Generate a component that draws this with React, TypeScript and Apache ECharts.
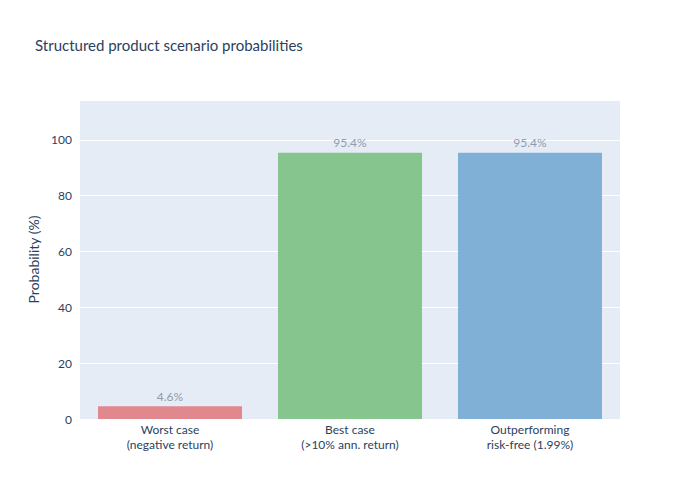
import React, { useEffect, useRef } from "react";
import * as echarts from "echarts";

const categories = ["Worst case\n(negative return)", "Best case\n(>10% ann. return)", "Outperforming\nrisk-free (1.99%)"];
const values = [4.6, 95.4, 95.4];
const colors = ["#e0888e", "#86c68e", "#80b0d6"];
const yTicks = [0, 20, 40, 60, 80, 100];

const FONT = "Lato, 'Noto Sans', sans-serif";

export default function App() {
  const ref = useRef<HTMLDivElement>(null);
  useEffect(() => {
    const chart = echarts.init(ref.current!, null, { renderer: "svg" });
    chart.setOption({
      animation: false,
      backgroundColor: "#ffffff",
      textStyle: { fontFamily: FONT },
      title: {
        text: "Structured product scenario probabilities",
        left: 35,
        top: 37,
        padding: 0,
        textStyle: { fontFamily: FONT, fontSize: 15, fontWeight: "normal", color: "#2a3f5f" },
      },
      grid: { left: 80, right: 80, top: 100, bottom: 81, backgroundColor: "#e5ecf6", show: true, borderWidth: 0 },
      xAxis: {
        type: "category",
        data: categories,
        axisLine: { show: false },
        axisTick: { show: false },
        axisLabel: { color: "#2a3f5f", fontSize: 12, fontFamily: FONT, lineHeight: 15, margin: 3 },
      },
      yAxis: {
        type: "value",
        min: 0,
        max: 114.3,
        interval: 20,
        name: "Probability (%)",
        nameLocation: "middle",
        nameGap: 40,
        nameTextStyle: { color: "#2a3f5f", fontSize: 14, fontFamily: FONT },
        axisLabel: {
          color: "#2a3f5f",
          fontSize: 12,
          fontFamily: FONT,
          margin: 8,
          formatter: (v: number) => (yTicks.includes(v) ? String(v) : ""),
        },
        splitLine: { lineStyle: { color: "#ffffff", width: 1 } },
        axisLine: { show: false },
        axisTick: { show: false },
      },
      series: [
        {
          type: "bar",
          barCategoryGap: "20%",
          data: values.map((v, i) => ({ value: v, itemStyle: { color: colors[i] } })),
          label: {
            show: true,
            position: "top",
            distance: 4,
            color: "#8e9bb0",
            fontSize: 12,
            fontFamily: FONT,
            formatter: (p: any) => `${p.value.toFixed(1)}%`,
          },
        },
      ],
    });
    return () => chart.dispose();
  }, []);
  return <div ref={ref} style={{ width: 700, height: 500, margin: -8 }} />;
}
